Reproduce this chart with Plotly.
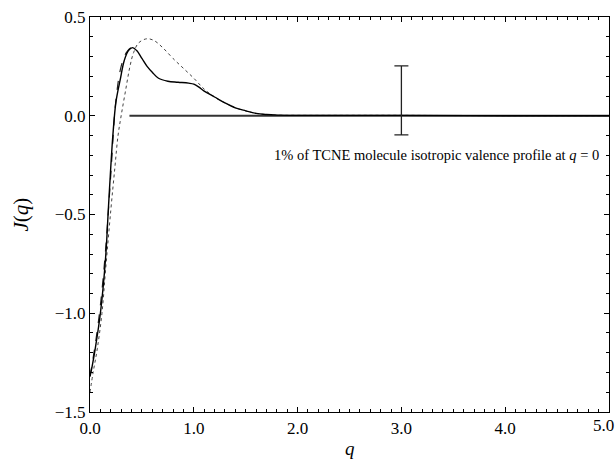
import plotly.graph_objects as go

# Solid curve
q_solid = [0.0, 0.02, 0.05, 0.1, 0.15, 0.175, 0.19, 0.22, 0.25, 0.29, 0.33, 0.37, 0.41, 0.45, 0.5,
           0.55, 0.6, 0.66, 0.75, 0.85, 0.95, 1.0, 1.05, 1.1, 1.2, 1.3, 1.4, 1.5, 1.6, 1.7, 1.8,
           1.9, 2.0, 2.5, 3.0, 4.0, 5.0]
j_solid = [-1.32, -1.27, -1.18, -1.0, -0.72, -0.49, -0.35, -0.1, 0.07, 0.18, 0.28, 0.33, 0.345,
           0.33, 0.29, 0.25, 0.22, 0.19, 0.175, 0.17, 0.165, 0.16, 0.145, 0.125, 0.095, 0.065,
           0.04, 0.025, 0.012, 0.006, 0.003, 0.002, 0.002, 0.002, 0.002, 0.0, 0.0]

# Dashed curve (close to solid on the rising edge)
q_dash = [0.0, 0.05, 0.1, 0.15, 0.2, 0.25, 0.3, 0.35, 0.4, 0.45]
j_dash = [-1.32, -1.16, -0.96, -0.68, -0.3, 0.08, 0.25, 0.32, 0.345, 0.33]

# Dotted curve
q_dot = [0.0, 0.03, 0.07, 0.115, 0.15, 0.2, 0.24, 0.27, 0.3, 0.34, 0.385, 0.42, 0.47, 0.55,
         0.62, 0.7, 0.8, 0.9, 1.0, 1.1, 1.2, 1.3, 1.4, 1.5, 1.6, 1.7, 1.8, 2.0, 2.5, 3.0, 4.0, 5.0]
j_dot = [-1.40, -1.30, -1.18, -1.0, -0.78, -0.48, -0.26, -0.1, 0.0, 0.12, 0.25, 0.32, 0.37, 0.39,
         0.38, 0.345, 0.29, 0.24, 0.19, 0.135, 0.095, 0.065, 0.04, 0.025, 0.012, 0.006, 0.003,
         0.002, 0.002, 0.002, 0.0, 0.0]

# Zero reference line
q_zero = [0.38, 5.0]
j_zero = [0.0, 0.0]

# Error bar (1% of J(0))
q_bar = [3.0]
j_bar_center = [0.078]
j_bar_half = [0.175]

x_ticks = [0, 1, 2, 3, 4, 5]
x_ticklabels = ["0.0", "1.0", "2.0", "3.0", "4.0", ""]
x_last_label = "5.0"
y_ticks = [0.5, 0.0, -0.5, -1.0, -1.5]
y_ticklabels = ["0.5", "0.0", "\u22120.5", "\u22121.0", "\u22121.5"]

font_fam = "Liberation Serif, Times New Roman, serif"

fig = go.Figure()
fig.add_trace(go.Scatter(x=q_zero, y=j_zero, mode="lines",
                         line=dict(color="#333333", width=1.8), showlegend=False))
fig.add_trace(go.Scatter(x=q_dot, y=j_dot, mode="lines", line_shape="spline",
                         line=dict(color="#444444", width=1, dash="dot"), showlegend=False))
fig.add_trace(go.Scatter(x=q_dash, y=j_dash, mode="lines", line_shape="spline",
                         line=dict(color="#222222", width=1.2, dash="dash"), showlegend=False))
fig.add_trace(go.Scatter(x=q_solid, y=j_solid, mode="lines", line_shape="spline",
                         line=dict(color="black", width=1.4), showlegend=False))
fig.add_trace(go.Scatter(x=q_bar, y=j_bar_center, mode="markers",
                         marker=dict(size=0.1, color="black"),
                         error_y=dict(type="data", array=j_bar_half, visible=True,
                                      color="#222222", thickness=1.3, width=7),
                         showlegend=False))

fig.add_annotation(x=1.75, y=-0.197, xref="x", yref="y", xanchor="left", yanchor="middle",
                   text="1% of TCNE molecule isotropic valence profile at <i>q</i> = 0",
                   showarrow=False, font=dict(family=font_fam, size=14.5, color="black"))

fig.add_annotation(x=x_ticks[-1], y=0, xref="x", yref="paper", xanchor="right",
                   yanchor="top", xshift=7, yshift=-2, text=x_last_label, showarrow=False,
                   font=dict(family=font_fam, size=17, color="black"))

fig.add_annotation(x=-0.133, y=0.5, xref="paper", yref="paper", xanchor="center",
                   textangle=-90, text="<i>J</i>(<i>q</i>)", showarrow=False,
                   font=dict(family=font_fam, size=21, color="black"))
fig.add_annotation(x=0.5, y=-0.06, xref="paper", yref="paper", yanchor="top",
                   text="<i>q</i>", showarrow=False,
                   font=dict(family=font_fam, size=19, color="black"))

axis_common = dict(showline=True, linecolor="black", linewidth=1.2, mirror="ticks",
                   ticks="inside", ticklen=5, tickcolor="black", showgrid=False,
                   zeroline=False, ticklabeloverflow="allow", automargin=False,
                   tickfont=dict(family=font_fam, size=17, color="black"))

fig.update_xaxes(range=[-0.0001, 5.0001], tickvals=x_ticks, ticktext=x_ticklabels,
                 minor=dict(dtick=0.1, ticks="inside", ticklen=3, tickcolor="black"),
                 **axis_common)
fig.update_yaxes(range=[-1.5001, 0.5001], tickvals=y_ticks, ticktext=y_ticklabels,
                 minor=dict(dtick=0.1, ticks="inside", ticklen=3, tickcolor="black"),
                 **axis_common)

fig.update_layout(width=616, height=459, margin=dict(l=90, r=7, t=17, b=47),
                  plot_bgcolor="white", paper_bgcolor="white")

fig.write_html("out.html")
